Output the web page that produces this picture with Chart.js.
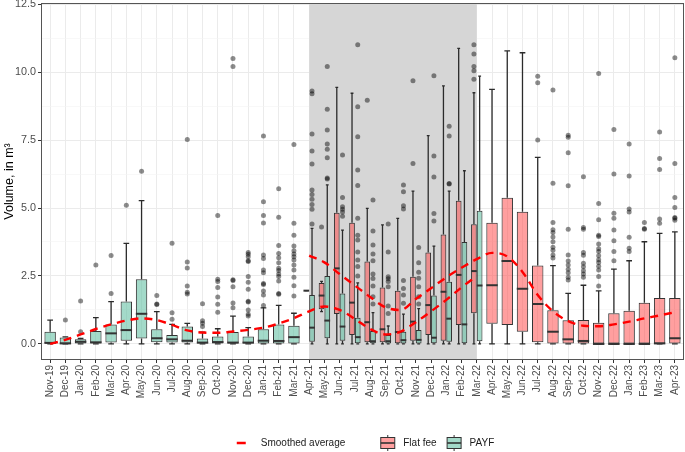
<!DOCTYPE html>
<html>
<head>
<meta charset="utf-8">
<script src="https://cdn.jsdelivr.net/npm/chart.js@4/dist/chart.umd.min.js"></script>
<style>
  html, body { margin: 0; padding: 0; background: #fff; }
  #wrap { width: 685px; height: 452px; }
</style>
</head>
<body>
<div id="wrap"><canvas id="chart" width="685" height="452"></canvas></div>
<script>
// Monthly volumes as boxplots, PAYF vs flat fee, with smoothed averages

const months = ['Nov-19', 'Dec-19', 'Jan-20', 'Feb-20', 'Mar-20', 'Apr-20', 'May-20', 'Jun-20', 'Jul-20',
    'Aug-20', 'Sep-20', 'Oct-20', 'Nov-20', 'Dec-20', 'Jan-21', 'Feb-21', 'Mar-21', 'Apr-21', 'May-21',
    'Jun-21', 'Jul-21', 'Aug-21', 'Sep-21', 'Oct-21', 'Nov-21', 'Dec-21', 'Jan-22', 'Feb-22', 'Mar-22',
    'Apr-22', 'May-22', 'Jun-22', 'Jul-22', 'Aug-22', 'Sep-22', 'Oct-22', 'Nov-22', 'Dec-22', 'Jan-23',
    'Feb-23', 'Mar-23', 'Apr-23'];

// shaded transition period
const shadeFrom = 'Apr-21';
const shadeTo = 'Mar-22';

// PAYF boxes, Nov-19 .. Mar-22
const payfFirst = 'Nov-19';
const payfLow = [0, 0, 0, 0, 0, 0, 0, 0, 0, 0, 0, 0, 0, 0, 0, 0, 0, 0, 0, 0, 0, 0, 0, 0, 0, 0, 0, 0, 0];
const payfQ1 = [0.02, 0.0, 0.02, 0.02, 0.05, 0.12, 0.2, 0.06, 0.05, 0.05, 0.0, 0.02, 0.02, 0.0, 0.02, 0.02,
    0.02, 0.08, 0.21, 0.12, 0.03, 0.03, 0.02, 0.02, 0.02, 0.03, 0.08, 0.03, 0.1];
const payfMedian = [0.04, 0.02, 0.08, 0.06, 0.39, 0.51, 1.11, 0.21, 0.17, 0.12, 0.05, 0.07, 0.05, 0.05, 0.12,
    0.11, 0.25, 0.6, 0.86, 0.64, 0.25, 0.1, 0.1, 0.14, 0.15, 0.23, 0.93, 0.72, 2.15];
const payfQ3 = [0.45, 0.24, 0.17, 0.48, 0.72, 1.56, 2.38, 0.54, 0.33, 0.64, 0.2, 0.27, 0.44, 0.27, 0.54, 0.72,
    0.67, 1.8, 2.5, 1.86, 0.96, 0.48, 0.33, 0.45, 0.51, 1.78, 2.29, 3.75, 4.9];
const payfHigh = [0.88, 0.26, 0.2, 0.97, 1.56, 3.7, 5.27, 1.19, 0.72, 0.76, 0.43, 0.56, 1.02, 0.6, 1.33, 1.42,
    1.13, 4.25, 5.85, 4.19, 2.25, 1.15, 0.66, 1.1, 1.3, 3.6, 5.62, 6.37, 9.85];
const payfOutliers = [
    [], [0.88], [0.45, 1.58], [2.9], [1.86, 3.25], [5.1], [6.35], [1.45, 1.47, 1.78], [0.91, 1.15, 3.7],
    [1.84, 1.9, 2.13, 2.79, 3.01, 7.52], [0.64, 0.76, 0.85, 1.48], [1.17, 1.46, 1.73, 2.08, 2.3, 2.38, 4.72],
    [1.33, 1.51, 2.1, 2.33, 2.36, 10.2, 10.5],
    [1.03, 1.09, 1.25, 1.54, 1.57, 2.01, 2.27, 2.48, 3.03, 3.06, 3.21, 3.3, 3.36],
    [1.41, 1.8, 1.95, 2.19, 2.22, 2.62, 2.72, 3.14, 3.27, 4.45, 4.72, 5.23, 7.65],
    [1.83, 1.86, 2.32, 2.48, 2.57, 2.7, 2.78, 2.99, 3.17, 3.33, 3.62, 4.66, 5.71],
    [1.76, 2.14, 2.45, 2.72, 2.9, 3.09, 3.21, 3.31, 3.43, 3.6, 4.0, 4.44, 7.34],
    [4.41, 4.95, 5.13, 5.32, 5.5, 5.66, 6.62, 7.1, 7.72, 9.2, 9.3],
    [6.07, 6.1, 6.85, 7.16, 7.35, 7.87, 8.63, 10.2],
    [4.7, 4.85, 4.95, 5.05, 5.39, 6.95],
    [2.5, 2.85, 3.09, 3.38, 3.82, 4.0, 4.62, 5.83, 6.4, 7.62, 8.72, 11.0],
    [1.47, 1.74, 2.13, 2.41, 2.57, 3.06, 3.31, 3.64, 4.15, 5.29],
    [1.12, 1.4, 2.1, 2.3, 2.4, 2.47, 3.38, 4.41],
    [1.5, 1.8, 2.04, 2.33, 4.96, 5.08, 5.6, 5.85],
    [1.47, 1.74, 2.1, 2.42, 2.64, 2.99, 3.55],
    [4.52, 4.8, 6.14, 6.91, 9.86],
    [5.88, 5.9, 7.65, 8.01],
    [], []
];

// Flat fee boxes, Apr-21 .. Apr-23
const flatFirst = 'Apr-21';
const flatLow = [1.96, 1.19, 0, 0, 0, 0, 0, 0, 0, 0, 0, 0, 0, 0, 0, 0, 0, 0, 0, 0, 0, 0, 0, 0, 0];
const flatQ1 = [1.96, 1.28, 1.1, 0.33, 0.06, 0.06, 0.03, 0.12, 0.33, 0.12, 0.7, 1.13, 0.74, 0.7, 0.45, 0.06,
    0, 0, 0, 0, 0, 0, 0, 0, 0];
const flatMedian = [1.96, 1.78, 2.78, 1.52, 0.8, 0.54, 0.44, 0.82, 1.43, 1.92, 2.54, 2.68, 2.16, 3.05, 2.03,
    1.47, 0.45, 0.17, 0.11, 0, 0, 0, 0, 0.02, 0.21];
const flatQ3 = [1.96, 2.24, 4.83, 4.46, 3.03, 2.08, 1.96, 2.47, 3.36, 4.03, 5.27, 4.4, 4.46, 5.38, 4.86, 2.89,
    1.24, 0.87, 0.88, 0.78, 1.13, 1.22, 1.52, 1.69, 1.69];
const flatHigh = [1.96, 2.3, 9.44, 9.22, 4.99, 4.38, 4.62, 5.62, 7.66, 9.49, 10.87, 9.24, 9.36, 10.78, 10.71,
    6.86, 2.88, 1.86, 2.16, 1.95, 2.75, 3.06, 3.76, 4.07, 4.12];
const flatOutliers = [
    [], [4.3], [], [], [8.96], [], [], [6.64, 9.68], [], [], [],
    [9.74, 10.05, 10.2, 10.66, 11.0],
    [], [], [],
    [7.5, 9.61, 9.85],
    [3.16, 3.27, 3.45, 3.56, 3.76, 3.93, 4.1, 4.2, 4.47, 5.91, 9.34],
    [2.35, 2.45, 2.62, 2.75, 2.9, 3.05, 3.27, 4.22, 5.82, 7.03, 7.6, 7.68],
    [2.45, 2.57, 2.69, 2.84, 2.97, 3.26, 3.36, 4.22, 4.28, 6.15],
    [2.13, 2.48, 2.72, 2.86, 3.0, 3.1, 3.24, 3.4, 3.5, 3.68, 3.95, 4.0, 4.57, 5.17, 9.95],
    [3.06, 3.4, 3.8, 4.19, 4.62, 4.81, 6.25, 7.89],
    [3.4, 3.52, 3.92, 4.85, 4.96, 6.18, 7.35],
    [4.22, 4.25, 4.47],
    [4.44, 4.6, 6.42, 6.82, 7.8],
    [4.55, 4.62, 4.65, 5.02, 5.39, 6.64, 10.53]
];

// smoothed averages
const smoothPayf = [0.0, 0.15, 0.35, 0.55, 0.72, 0.86, 0.94, 0.88, 0.7, 0.5, 0.42, 0.41, 0.46, 0.52, 0.6,
    0.75, 0.95, 1.2, 1.38, 1.25, 0.92, 0.55, 0.35, 0.45, 0.8, 1.2, 1.62, 2.08, 2.5];
const smoothFlat = [3.25, 3.0, 2.57, 2.15, 1.73, 1.35, 1.25, 1.65, 2.05, 2.45, 2.8, 3.12, 3.35, 3.22, 2.65,
    1.8, 1.2, 0.84, 0.67, 0.65, 0.72, 0.82, 0.94, 1.05, 1.17];

const yTicks = [0, 1.25, 2.5, 3.75, 5, 6.25, 7.5, 8.75, 10, 11.25, 12.5];

const FONT = '"Liberation Sans", Arial, Helvetica, sans-serif';
const payfFill = 'rgba(102, 194, 165, 0.6)';
const flatFill = 'rgba(255, 80, 80, 0.55)';
const lineColor = '#333333';

Chart.defaults.font.family = FONT;

// put a series that starts at `first` onto the full month axis
function spread(values, first) {
    const start = months.indexOf(first);
    return months.map((m, i) => {
        const v = values[i - start];
        return v === undefined ? null : v;
    });
}

function boxData(q1, q3, first) {
    const a = spread(q1, first);
    const b = spread(q3, first);
    return months.map((m, i) => ({ x: i, y: a[i] === null ? null : [a[i], b[i]] }));
}

function lineData(values, first) {
    const start = months.indexOf(first);
    return values.map((v, i) => ({ x: start + i, y: v }));
}

function stats(low, median, high, outliers, first) {
    return {
        low: spread(low, first),
        median: spread(median, first),
        high: spread(high, first),
        outliers: spread(outliers, first)
    };
}

// whiskers, medians, outliers, shading, panel border and legend
const boxParts = {
    id: 'boxParts',
    beforeDatasetsDraw(chart) {
        const { ctx, chartArea, scales: { x } } = chart;
        const x0 = x.getPixelForValue(months.indexOf(shadeFrom));
        const x1 = x.getPixelForValue(months.indexOf(shadeTo));
        ctx.save();
        ctx.fillStyle = '#d6d6d6';
        ctx.fillRect(x0, chartArea.top, x1 - x0, chartArea.bottom - chartArea.top);
        ctx.restore();
    },
    beforeDatasetDraw(chart, args) {
        const ds = chart.data.datasets[args.index];
        if (!ds.stats) return;
        const { ctx, scales: { y } } = chart;
        ctx.save();
        ctx.strokeStyle = '#2b2b2b';
        ctx.lineWidth = 1.3;
        args.meta.data.forEach((el, i) => {
            const box = ds.data[i].y;
            if (!box) return;
            const cap = el.width / 4;
            const yHigh = y.getPixelForValue(ds.stats.high[i]);
            const yLow = y.getPixelForValue(ds.stats.low[i]);
            ctx.beginPath();
            ctx.moveTo(el.x, y.getPixelForValue(box[1]));
            ctx.lineTo(el.x, yHigh);
            ctx.moveTo(el.x - cap, yHigh);
            ctx.lineTo(el.x + cap, yHigh);
            ctx.moveTo(el.x, y.getPixelForValue(box[0]));
            ctx.lineTo(el.x, yLow);
            ctx.moveTo(el.x - cap, yLow);
            ctx.lineTo(el.x + cap, yLow);
            ctx.stroke();
        });
        ctx.restore();
    },
    afterDatasetDraw(chart, args) {
        const ds = chart.data.datasets[args.index];
        if (!ds.stats) return;
        const { ctx, scales: { y } } = chart;
        ctx.save();
        ctx.strokeStyle = lineColor;
        ctx.lineWidth = 2;
        args.meta.data.forEach((el, i) => {
            if (!ds.data[i].y) return;
            const ym = y.getPixelForValue(ds.stats.median[i]);
            ctx.beginPath();
            ctx.moveTo(el.x - el.width / 2, ym);
            ctx.lineTo(el.x + el.width / 2, ym);
            ctx.stroke();
        });
        ctx.fillStyle = 'rgba(0, 0, 0, 0.45)';
        args.meta.data.forEach((el, i) => {
            const pts = ds.stats.outliers[i];
            if (!pts) return;
            pts.forEach(v => {
                ctx.beginPath();
                ctx.arc(el.x, y.getPixelForValue(v), 2.5, 0, Math.PI * 2);
                ctx.fill();
            });
        });
        ctx.restore();
    },
    afterDraw(chart) {
        const { ctx, chartArea } = chart;
        ctx.save();
        ctx.strokeStyle = '#555555';
        ctx.lineWidth = 1;
        ctx.strokeRect(chartArea.left + 0.5, chartArea.top + 0.5,
            chartArea.right - chartArea.left - 1, chartArea.bottom - chartArea.top - 1);
        drawLegend(chart);
        ctx.restore();
    }
};

function drawBoxKey(ctx, kx, cy, fill) {
    ctx.strokeStyle = lineColor;
    ctx.lineWidth = 1;
    ctx.beginPath();
    ctx.moveTo(kx + 8.5, cy - 8);
    ctx.lineTo(kx + 8.5, cy + 8);
    ctx.stroke();
    ctx.fillStyle = '#ffffff';
    ctx.fillRect(kx + 1.5, cy - 5.5, 14, 11);
    ctx.fillStyle = fill;
    ctx.fillRect(kx + 1.5, cy - 5.5, 14, 11);
    ctx.strokeRect(kx + 1.5, cy - 5.5, 14, 11);
    ctx.lineWidth = 1.6;
    ctx.beginPath();
    ctx.moveTo(kx + 1.5, cy);
    ctx.lineTo(kx + 15.5, cy);
    ctx.stroke();
}

function drawLegend(chart) {
    const { ctx, chartArea } = chart;
    const key = 17, gap = 7, itemGap = 9, groupGap = 34;
    const cy = 443;
    ctx.font = '10px ' + FONT;
    ctx.textBaseline = 'middle';
    const items = [
        { text: 'Smoothed average', kind: 'line' },
        { text: 'Flat fee', kind: 'box', fill: flatFill },
        { text: 'PAYF', kind: 'box', fill: payfFill }
    ];
    items.forEach(it => { it.w = ctx.measureText(it.text).width; });
    const total = items.reduce((s, it) => s + key + gap + it.w, 0) + groupGap + itemGap;
    let x = (chartArea.left + chartArea.right) / 2 - total / 2 + 3;
    items.forEach((it, k) => {
        if (it.kind === 'line') {
            ctx.strokeStyle = '#ff0000';
            ctx.lineWidth = 2.5;
            ctx.beginPath();
            ctx.moveTo(x, cy);
            ctx.lineTo(x + 9, cy);
            ctx.stroke();
        } else {
            drawBoxKey(ctx, x, cy, it.fill);
        }
        ctx.fillStyle = '#1a1a1a';
        ctx.textAlign = 'left';
        ctx.fillText(it.text, x + key + gap, cy);
        x += key + gap + it.w + (k === 0 ? groupGap : itemGap);
    });
}

const smoothStyle = {
    type: 'line',
    borderColor: '#ff0000',
    borderWidth: 2.4,
    borderDash: [8, 6],
    pointRadius: 0,
    fill: false,
    tension: 0.4,
    cubicInterpolationMode: 'monotone',
    order: 0
};

new Chart(document.getElementById('chart'), {
    type: 'bar',
    data: {
        datasets: [
            Object.assign({ label: 'Smoothed average', data: lineData(smoothFlat, flatFirst) }, smoothStyle),
            Object.assign({ label: 'Smoothed average PAYF', data: lineData(smoothPayf, payfFirst) }, smoothStyle),
            {
                label: 'Flat fee',
                data: boxData(flatQ1, flatQ3, flatFirst),
                stats: stats(flatLow, flatMedian, flatHigh, flatOutliers, flatFirst),
                backgroundColor: flatFill,
                borderColor: lineColor,
                borderWidth: 1,
                borderSkipped: false,
                order: 1
            },
            {
                label: 'PAYF',
                data: boxData(payfQ1, payfQ3, payfFirst),
                stats: stats(payfLow, payfMedian, payfHigh, payfOutliers, payfFirst),
                backgroundColor: payfFill,
                borderColor: lineColor,
                borderWidth: 1,
                borderSkipped: false,
                order: 1
            }
        ]
    },
    options: {
        responsive: false,
        animation: false,
        events: [],
        layout: { padding: { top: 3, right: 1, left: 0, bottom: 0 } },
        datasets: {
            bar: { skipNull: true, categoryPercentage: 0.75, barPercentage: 1, grouped: true }
        },
        plugins: {
            legend: { display: false },
            tooltip: { enabled: false }
        },
        scales: {
            x: {
                type: 'linear',
                min: -0.6,
                max: 41.6,
                offset: false,
                afterBuildTicks: scale => { scale.ticks = months.map((m, i) => ({ value: i })); },
                afterFit: scale => { scale.height = 92; scale.paddingLeft = 0; scale.paddingRight = 0; },
                ticks: {
                    autoSkip: false,
                    minRotation: 90,
                    maxRotation: 90,
                    padding: 2,
                    color: '#4d4d4d',
                    font: { size: 10 },
                    callback: value => months[value]
                },
                grid: { color: '#ebebeb', lineWidth: 1, tickLength: 3, tickColor: '#333333', offset: false },
                border: { display: false }
            },
            y: {
                type: 'linear',
                min: -0.59,
                max: 12.54,
                afterBuildTicks: scale => { scale.ticks = yTicks.map(v => ({ value: v })); },
                afterFit: scale => { scale.width = 41; scale.paddingTop = 0; scale.paddingBottom = 0; },
                ticks: {
                    padding: 2,
                    color: '#4d4d4d',
                    font: { size: 10.8 },
                    callback: value => (value % 2.5 === 0 ? value.toFixed(1) : '')
                },
                grid: {
                    color: ctx => (ctx.tick && ctx.tick.value % 2.5 === 0 ? '#ebebeb' : '#f3f3f3'),
                    lineWidth: ctx => (ctx.tick && ctx.tick.value % 2.5 === 0 ? 1 : 0.6),
                    tickLength: 3,
                    tickColor: ctx => (ctx.tick && ctx.tick.value % 2.5 === 0 ? '#333333' : 'rgba(0,0,0,0)')
                },
                border: { display: false },
                title: {
                    display: true,
                    text: 'Volume, in m³',
                    color: '#000000',
                    font: { size: 12.5 },
                    padding: { top: 2, bottom: 0 }
                }
            }
        }
    },
    plugins: [boxParts]
});
</script>
</body>
</html>
